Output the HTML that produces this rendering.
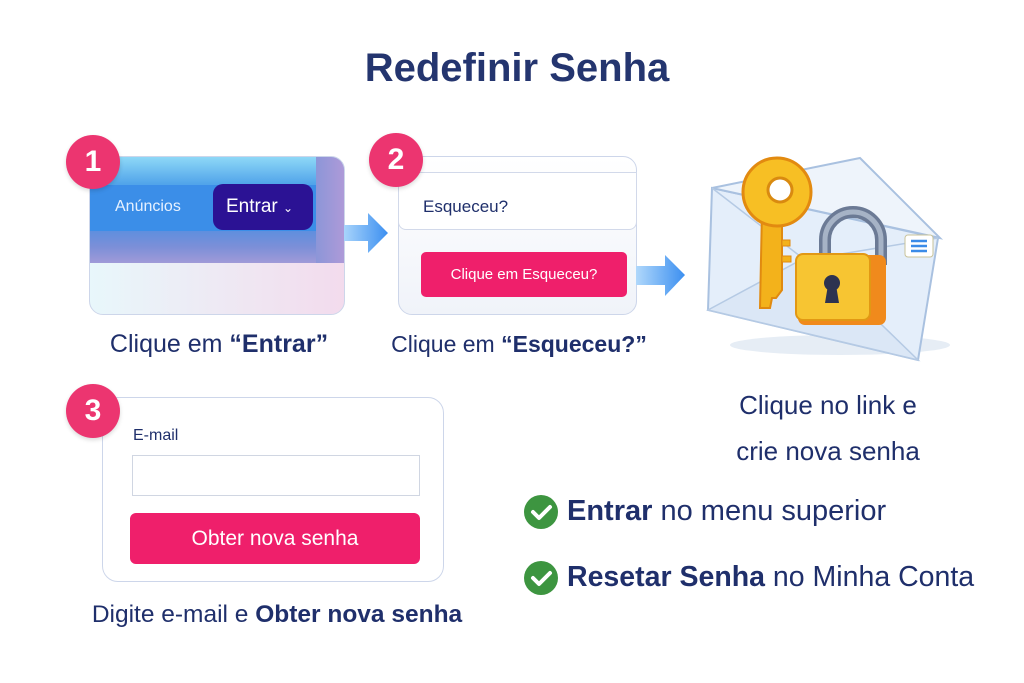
<!DOCTYPE html>
<html><head><meta charset="utf-8"><style>
*{margin:0;padding:0;box-sizing:border-box}
body{width:1024px;height:683px;background:#fff;position:relative;overflow:hidden;font-family:"Liberation Sans",sans-serif;color:#1f2f6b}
.a{position:absolute}
.t{white-space:nowrap}
.badge{position:absolute;width:54px;height:54px;border-radius:50%;background:#ec3570;color:#fff;font-weight:bold;font-size:30px;text-align:center;line-height:54px;box-shadow:0 2px 4px rgba(0,0,0,.15)}
.cap{position:absolute;font-size:23px;white-space:nowrap;transform:translateX(-50%)}
</style></head><body>
<div class="a t" style="left:0;width:1034px;top:46px;text-align:center;font-size:40px;font-weight:bold;color:#24356f">Redefinir Senha</div>

<!-- panel 1 -->
<div class="a" style="left:89px;top:156px;width:256px;height:159px;border-radius:14px;overflow:hidden;border:1px solid #cdd6ea;background:linear-gradient(90deg,#e8f7fb,#f0e4f1 70%,#f3dbed)">
  <div class="a" style="left:0;top:0;width:256px;height:106px;background:linear-gradient(180deg,#8ed8f7 0%,#52a5ea 25%,#3a8fe6 50%,#7c8fd8 85%,#a09ad8 100%)"></div>
  <div class="a" style="left:0;top:28px;width:226px;height:46px;background:#3b8ee8"></div>
  <div class="a" style="left:226px;top:0;width:30px;height:106px;background:linear-gradient(90deg,#8c96d8,#b09ad8)"></div>
  <div class="a t" style="left:25px;top:41px;color:#e6f1ff;font-size:16px">Anúncios</div>
  <div class="a" style="left:123px;top:27px;width:100px;height:46px;border-radius:10px;background:#2b1294"></div>
  <div class="a t" style="left:136px;top:39px;color:#fff;font-size:19px">Entrar <span style="font-size:12px">&#8964;</span></div>
</div>
<div class="badge" style="left:66px;top:135px">1</div>
<svg class="a" style="left:344px;top:212px" width="46" height="42"><defs><linearGradient id="g1"><stop offset="0" stop-color="#a8d4fb"/><stop offset="1" stop-color="#3c8ff0"/></linearGradient></defs><path d="M0 13H24V1L44 21L24 41V29H0Z" fill="url(#g1)"/></svg>
<div class="cap" style="left:219px;top:330px;font-size:25px">Clique em <b>“Entrar”</b></div>

<!-- panel 2 -->
<div class="a" style="left:398px;top:156px;width:239px;height:159px;border-radius:14px;border:1px solid #cdd6ea;background:linear-gradient(#fff,#f0f3f9)"></div>
<div class="a" style="left:398px;top:172px;width:239px;height:58px;border:1px solid #d2d9ea;border-radius:0 0 8px 8px;background:#fff"></div>
<div class="a t" style="left:423px;top:197px;font-size:17px">Esqueceu?</div>
<div class="a" style="left:421px;top:252px;width:206px;height:45px;border-radius:5px;background:#ef1f6b;color:#fff;font-size:15px;text-align:center;line-height:45px">Clique em Esqueceu?</div>
<div class="badge" style="left:369px;top:133px">2</div>
<svg class="a" style="left:636px;top:254px" width="50" height="44"><defs><linearGradient id="g2"><stop offset="0" stop-color="#b0d8fb"/><stop offset="1" stop-color="#3c8ff0"/></linearGradient></defs><path d="M0 12H29V1L49 21L29 42V31H0Z" fill="url(#g2)"/></svg>
<div class="cap" style="left:519px;top:331px">Clique em <b>“Esqueceu?”</b></div>

<!-- envelope -->
<svg class="a" style="left:700px;top:150px" width="260" height="215" viewBox="0 0 260 215">
 <ellipse cx="140" cy="195" rx="110" ry="10" fill="#e6edf5"/>
 <path d="M12 38L238 88L218 210L8 160Z" fill="#e4eefa" stroke="#a9c1e0" stroke-width="2"/>
 <path d="M12 38L160 8L240 88Z" fill="#eef4fb" stroke="#a9c1e0" stroke-width="2"/>
 <path d="M8 160L110 105L218 210Z" fill="#dbe7f6" stroke="#b5cae4" stroke-width="1.5"/>
 <path d="M12 38L105 110L238 88" fill="none" stroke="#b5cae4" stroke-width="1.5"/>
 <rect x="205" y="85" width="28" height="22" rx="3" fill="#fff" stroke="#c9c39a"/>
 <path d="M211 91h16M211 96h16M211 101h16" stroke="#3a8be8" stroke-width="2.5"/>
 <path d="M62 60h20v80l-6 8h-4l-2 10h-10z" fill="#f3b21b" stroke="#e08a10" stroke-width="2"/>
 <path d="M82 90h8v6h-8zM82 106h9v6h-9z" fill="#f3b21b" stroke="#e08a10"/>
 <circle cx="77" cy="42" r="34" fill="#f7bf24" stroke="#e28a10" stroke-width="3"/>
 <circle cx="80" cy="40" r="12" fill="#fff" stroke="#d98a10" stroke-width="3"/>
 <path d="M125 115v-25a28 28 0 0 1 56 0v25" fill="none" stroke="#6b7a95" stroke-width="12"/>
 <path d="M125 115v-25a28 28 0 0 1 56 0v25" fill="none" stroke="#a6b3c6" stroke-width="5"/>
 <rect x="98" y="105" width="88" height="70" rx="7" fill="#f08a1c"/>
 <rect x="96" y="104" width="74" height="66" rx="7" fill="#f7c532" stroke="#e29814" stroke-width="2"/>
 <circle cx="132" cy="133" r="8" fill="#2d3350"/><path d="M128 135h8l3 18h-14z" fill="#2d3350"/>
</svg>
<div class="a t" style="left:700px;width:256px;top:382px;text-align:center;font-size:26px;line-height:46px">Clique no link e<br>crie nova senha</div>

<!-- panel 3 -->
<div class="a" style="left:102px;top:397px;width:342px;height:185px;border-radius:16px;border:1px solid #cdd6ea;background:#fff"></div>
<div class="badge" style="left:66px;top:384px">3</div>
<div class="a t" style="left:133px;top:427px;font-size:16px">E-mail</div>
<div class="a" style="left:132px;top:455px;width:288px;height:41px;border:1.5px solid #d0d6e2;background:#fff"></div>
<div class="a" style="left:130px;top:513px;width:290px;height:51px;border-radius:6px;background:#ef1f6b;color:#fff;font-size:21px;text-align:center;line-height:51px">Obter nova senha</div>
<div class="cap" style="left:277px;top:601px;font-size:24.5px">Digite e-mail e <b>Obter nova senha</b></div>

<!-- checks -->
<svg class="a" style="left:523px;top:494px" width="36" height="36"><circle cx="18" cy="18" r="17" fill="#3d9540"/><path d="M10 18l6 6l11-11" fill="none" stroke="#fff" stroke-width="4" stroke-linecap="round" stroke-linejoin="round"/></svg>
<div class="a t" style="left:567px;top:495px;font-size:29px"><b>Entrar</b> no menu superior</div>
<svg class="a" style="left:523px;top:560px" width="36" height="36"><circle cx="18" cy="18" r="17" fill="#3d9540"/><path d="M10 18l6 6l11-11" fill="none" stroke="#fff" stroke-width="4" stroke-linecap="round" stroke-linejoin="round"/></svg>
<div class="a t" style="left:567px;top:561px;font-size:28.5px"><b>Resetar Senha</b> no Minha Conta</div>
</body></html>
